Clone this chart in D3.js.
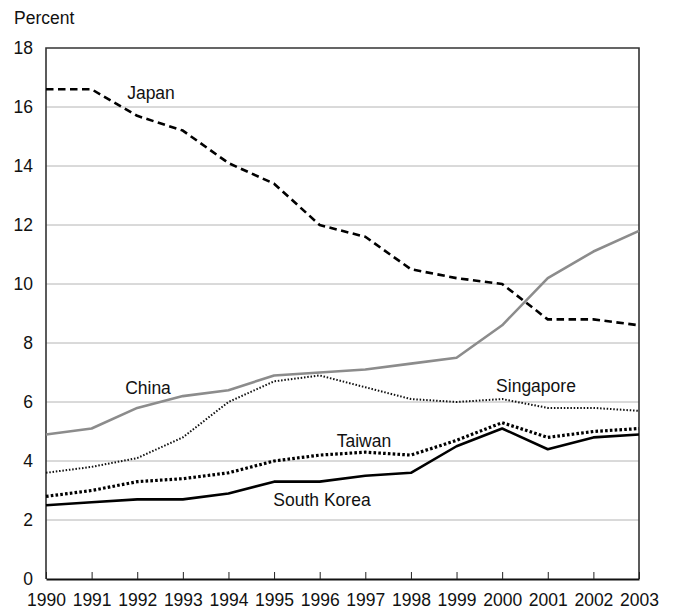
<!DOCTYPE html>
<html>
<head>
<meta charset="utf-8">
<script src="https://cdn.jsdelivr.net/npm/d3@7"></script>
<style>
  html, body { margin: 0; padding: 0; background: #fff; }
  svg text { font-family: "Liberation Sans", Arial, sans-serif; fill: #111; }
</style>
</head>
<body>
<svg id="chart" width="677" height="612"></svg>
<script>
// Share of imports by economy, percent
const years = [1990, 1991, 1992, 1993, 1994, 1995, 1996, 1997, 1998, 1999, 2000, 2001, 2002, 2003];
const japan      = [16.6, 16.6, 15.7, 15.2, 14.1, 13.4, 12.0, 11.6, 10.5, 10.2, 10.0, 8.8, 8.8, 8.6];
const china      = [4.9, 5.1, 5.8, 6.2, 6.4, 6.9, 7.0, 7.1, 7.3, 7.5, 8.6, 10.2, 11.1, 11.8];
const singapore  = [3.6, 3.8, 4.1, 4.8, 6.0, 6.7, 6.9, 6.5, 6.1, 6.0, 6.1, 5.8, 5.8, 5.7];
const taiwan     = [2.8, 3.0, 3.3, 3.4, 3.6, 4.0, 4.2, 4.3, 4.2, 4.7, 5.3, 4.8, 5.0, 5.1];
const southKorea = [2.5, 2.6, 2.7, 2.7, 2.9, 3.3, 3.3, 3.5, 3.6, 4.5, 5.1, 4.4, 4.8, 4.9];
const yTicks = [0, 2, 4, 6, 8, 10, 12, 14, 16, 18];

const svg = d3.select("#chart");
const plotLeft = 46, plotRight = 639, plotTop = 48, plotBottom = 579;

const x = d3.scaleLinear().domain([1990, 2003]).range([plotLeft, plotRight]);
const y = d3.scaleLinear().domain([0, 18]).range([plotBottom, plotTop]);

// horizontal grid lines
svg.append("g")
  .selectAll("line")
  .data(yTicks.filter(d => d > 0 && d < 18))
  .join("line")
  .attr("x1", plotLeft).attr("x2", plotRight)
  .attr("y1", d => y(d)).attr("y2", d => y(d))
  .attr("stroke", "#b4b4b4").attr("stroke-width", 1);

// frame: left, top, right
svg.append("path")
  .attr("d", `M${plotLeft},${plotBottom}V${plotTop}H${plotRight}V${plotBottom}`)
  .attr("fill", "none").attr("stroke", "#333").attr("stroke-width", 1.6);

// y axis labels
const yAxis = d3.axisLeft(y).tickValues(yTicks).tickSize(0).tickPadding(13).tickFormat(d3.format("d"));
const ya = svg.append("g").attr("transform", `translate(${plotLeft},0)`).call(yAxis);
ya.select(".domain").remove();
ya.selectAll("text").style("font-size", "17.5px").attr("font-family", null);

// x axis with ticks pointing into the plot
const xAxis = d3.axisBottom(x).tickValues(years).tickSizeInner(-7).tickSizeOuter(0).tickPadding(15).tickFormat(d3.format("d"));
const xa = svg.append("g").attr("transform", `translate(0,${plotBottom})`).call(xAxis);
xa.select(".domain").attr("stroke", "#111").attr("stroke-width", 2);
xa.selectAll(".tick line").attr("stroke", "#222").attr("stroke-width", 1);
xa.selectAll("text").style("font-size", "17.5px").attr("font-family", null);

// axis title
svg.append("text").attr("x", 14).attr("y", 24).style("font-size", "17.5px").text("Percent");

const series = [
  { name: "China",       values: china,      stroke: "#8c8c8c", width: 2.6, dash: null },
  { name: "Singapore",   values: singapore,  stroke: "#111",    width: 2.0, dash: "1.5,1.8" },
  { name: "Taiwan",      values: taiwan,     stroke: "#000",    width: 3.2, dash: "2.6,2.2" },
  { name: "South Korea", values: southKorea, stroke: "#000",    width: 2.6, dash: null },
  { name: "Japan",       values: japan,      stroke: "#000",    width: 2.6, dash: "7.5,4.5" }
];

const line = d3.line().x((d, i) => x(years[i])).y(d => y(d));

svg.append("g")
  .selectAll("path")
  .data(series)
  .join("path")
  .attr("d", d => line(d.values))
  .attr("fill", "none")
  .attr("stroke", d => d.stroke)
  .attr("stroke-width", d => d.width)
  .attr("stroke-dasharray", d => d.dash)
  .attr("stroke-linejoin", "round");

// direct series labels
const labels = [
  { text: "Japan",       x: 151, y: 99 },
  { text: "China",       x: 148, y: 394 },
  { text: "Singapore",   x: 536, y: 392 },
  { text: "Taiwan",      x: 364, y: 447 },
  { text: "South Korea", x: 322, y: 506 }
];
svg.append("g")
  .selectAll("text")
  .data(labels)
  .join("text")
  .attr("x", d => d.x).attr("y", d => d.y)
  .attr("text-anchor", "middle")
  .style("font-size", "17.5px")
  .text(d => d.text);
</script>
</body>
</html>
